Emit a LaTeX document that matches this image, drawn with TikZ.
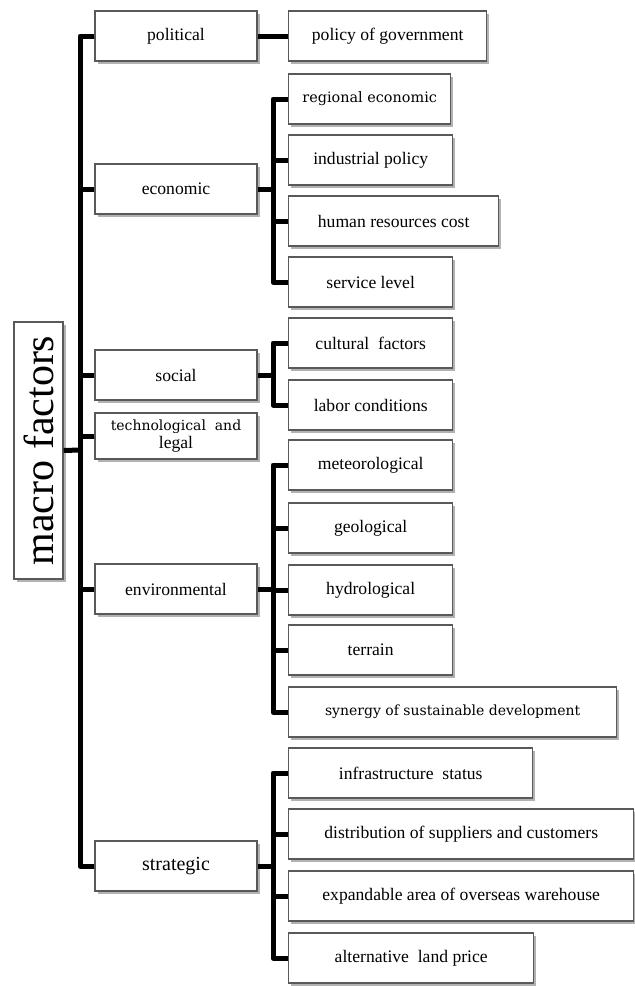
\documentclass[tikz,border=0pt]{standalone}
\usepackage{fontspec}
\setmainfont{Liberation Serif}
\newfontfamily\widefont{DejaVu Serif}
\usetikzlibrary{shadows,positioning}
\definecolor{boxline}{rgb}{0.35,0.35,0.35}

\begin{document}
\begin{tikzpicture}[x=0.5pt,y=-0.5pt,
        box/.style={draw=boxline, line width=0.7pt, fill=white, minimum height=25pt, inner sep=1pt,
            font=\fontsize{8.8}{10}\selectfont,
            drop shadow={shadow xshift=1.3pt, shadow yshift=-1.3pt, opacity=0.5, fill=black!60}},
        lvl/.style={box, minimum width=81pt},
        leaf/.style={box, anchor=west},
        conn/.style={line width=2.5pt, line join=round}]

        \useasboundingbox (0,0) rectangle (634,986);

            % root
            \node[box, minimum width=24.5pt, minimum height=128.5pt, font=\fontsize{21}{24}\selectfont] (root) at (38.5,450.5) {\rotatebox{90}{macro factors}} ;

            % first level
            \node[lvl] (pol) at (176,36) {political} ;
            \node[lvl] (eco) at (176,189) {economic} ;
            \node[lvl] (soc) at (176,375) {social} ;
            \node[lvl, minimum height=23pt, align=center] (tec) at (176,436) {{\widefont\fontsize{7}{7}\selectfont technological\ \ and}\\[-1pt]legal} ;
            \node[lvl] (env) at (176,589) {environmental} ;
            \node[lvl, font=\fontsize{10}{12}\selectfont] (str) at (176,866) {strategic} ;

            % second level
            \node[leaf, minimum width=99pt] (gov) at (288,36) {policy of government} ;
            \node[leaf, minimum width=81pt, font=\widefont\fontsize{7.2}{9}\selectfont] (reg) at (288,99) {regional economic} ;
            \node[leaf, minimum width=82pt] (ind) at (288,160) {industrial policy} ;
            \node[leaf, minimum width=105pt] (hum) at (288,221) {human resources cost} ;
            \node[leaf, minimum width=82pt] (ser) at (288,282) {service level} ;
            \node[leaf, minimum width=82pt] (cul) at (288,343) {cultural\ \ factors} ;
            \node[leaf, minimum width=82pt] (lab) at (288,405) {labor conditions} ;
            \node[leaf, minimum width=82pt] (met) at (288,465) {meteorological} ;
            \node[leaf, minimum width=82pt] (geo) at (288,528) {geological} ;
            \node[leaf, minimum width=82pt] (hyd) at (288,590) {hydrological} ;
            \node[leaf, minimum width=82pt] (ter) at (288,650) {terrain} ;
            \node[leaf, minimum width=164pt, font=\widefont\fontsize{7}{9}\selectfont] (syn) at (288,712) {synergy of sustainable development} ;
            \node[leaf, minimum width=122pt] (inf) at (288,773) {infrastructure\ \ status} ;
            \node[leaf, minimum width=172.5pt] (dis) at (288,834) {distribution of suppliers and customers} ;
            \node[leaf, minimum width=172.5pt] (exp) at (288,896) {expandable area of overseas warehouse} ;
            \node[leaf, minimum width=122.5pt] (alt) at (288,958) {alternative\ \ land price} ;

            % main trunk
            \coordinate (trunk) at (80,450) ;
            \draw[conn] (root.east) -- (trunk) ;
            \draw[conn] (pol.west) -| (trunk) |- (str.west) ;
            \foreach \n in {eco,soc,tec,env}
                \draw[conn] (\n.west) -- (\n.west -| trunk) ;

            % political
            \draw[conn] (pol.east) -- (gov.west) ;

            % economic
            \coordinate (ecoT) at (273,189) ;
            \draw[conn] (eco.east) -- (ecoT) ;
            \draw[conn] (reg.west) -| (ecoT) |- (ser.west) ;
            \foreach \n in {ind,hum}
                \draw[conn] (\n.west) -- (\n.west -| ecoT) ;

            % social
            \coordinate (socT) at (273,375) ;
            \draw[conn] (soc.east) -- (socT) ;
            \draw[conn] (cul.west) -| (socT) |- (lab.west) ;

            % environmental
            \coordinate (envT) at (273,589) ;
            \draw[conn] (env.east) -- (envT) ;
            \draw[conn] (met.west) -| (envT) |- (syn.west) ;
            \foreach \n in {geo,hyd,ter}
                \draw[conn] (\n.west) -- (\n.west -| envT) ;

            % strategic
            \coordinate (strT) at (273,866) ;
            \draw[conn] (str.east) -- (strT) ;
            \draw[conn] (inf.west) -| (strT) |- (alt.west) ;
            \foreach \n in {dis,exp}
                \draw[conn] (\n.west) -- (\n.west -| strT) ;

\end{tikzpicture}
\end{document}
